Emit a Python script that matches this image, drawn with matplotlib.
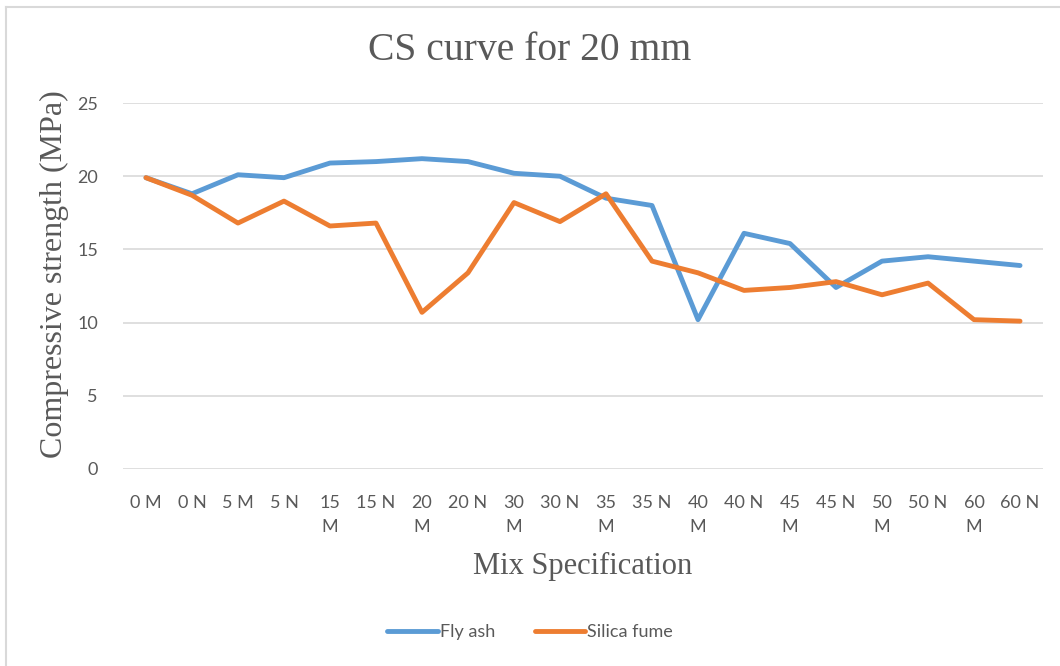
import matplotlib
matplotlib.use('Agg')
import matplotlib.pyplot as plt
from matplotlib.lines import Line2D

# category labels (long ones wrap onto two lines like the original)
mixes = ['0 M', '0 N', '5 M', '5 N', '15\nM', '15 N', '20\nM', '20 N', '30\nM', '30 N',
         '35\nM', '35 N', '40\nM', '40 N', '45\nM', '45 N', '50\nM', '50 N', '60\nM', '60 N']

fly_ash = [19.9, 18.8, 20.1, 19.9, 20.9, 21.0, 21.2, 21.0, 20.2, 20.0,
           18.5, 18.0, 10.2, 16.1, 15.4, 12.4, 14.2, 14.5, 14.2, 13.9]
silica_fume = [19.9, 18.7, 16.8, 18.3, 16.6, 16.8, 10.7, 13.4, 18.2, 16.9,
               18.8, 14.2, 13.4, 12.2, 12.4, 12.8, 11.9, 12.7, 10.2, 10.1]

y_ticks = [0, 5, 10, 15, 20, 25]

gray_text = '#595959'
serif = ['Liberation Serif', 'DejaVu Serif']
sans = ['Lato', 'DejaVu Sans']

fig = plt.figure(figsize=(10.6, 6.66), dpi=100)
ax = fig.add_axes([0.116, 0.2958, 0.868, 0.5495])

x = range(len(mixes))
ax.plot(x, fly_ash, color='#5B9BD5', lw=3.5, label='Fly ash', solid_capstyle='round')
ax.plot(x, silica_fume, color='#ED7D31', lw=3.5, label='Silica fume', solid_capstyle='round')

ax.set_xlim(-0.5, len(mixes) - 0.5)
ax.set_ylim(0, 25)
ax.set_yticks(y_ticks)
ax.set_xticks(list(x))
ax.set_xticklabels(mixes, linespacing=1.6, va='top')
ax.grid(axis='y', color='#D9D9D9', lw=1.2)
ax.set_axisbelow(True)
for s in ax.spines.values():
    s.set_visible(False)
ax.tick_params(length=0, colors=gray_text, labelsize=13)
ax.tick_params(axis='x', pad=19)
ax.tick_params(axis='y', pad=18)
for lbl in ax.get_xticklabels() + ax.get_yticklabels():
    lbl.set_family(sans)

ax.set_xlabel('Mix Specification', family=serif, fontsize=22, color=gray_text, labelpad=12)
ax.set_ylabel('Compressive strength (MPa)', family=serif, fontsize=23, color=gray_text,
              va='center')
ax.yaxis.set_label_coords(-0.074, 0.533)

fig.text(0.5, 1 - 50 / 666, 'CS curve for 20 mm', family=serif, fontsize=28.5,
         color=gray_text, ha='center', va='center')

fig.legend(loc='center', bbox_to_anchor=(0.5, 1 - 632 / 666), ncol=2, frameon=False,
           prop={'family': sans, 'size': 13}, labelcolor=gray_text,
           handlelength=2.8, handletextpad=0.1, columnspacing=2.2)

# chart border (only left and top edges are visible in the original)
fig.add_artist(Line2D([6 / 1060, 6 / 1060], [0, 1 - 7 / 666], color='#D9D9D9', lw=1.5))
fig.add_artist(Line2D([6 / 1060, 1], [1 - 7 / 666, 1 - 7 / 666], color='#D9D9D9', lw=1.5))

fig.savefig('out.png', dpi=100)
